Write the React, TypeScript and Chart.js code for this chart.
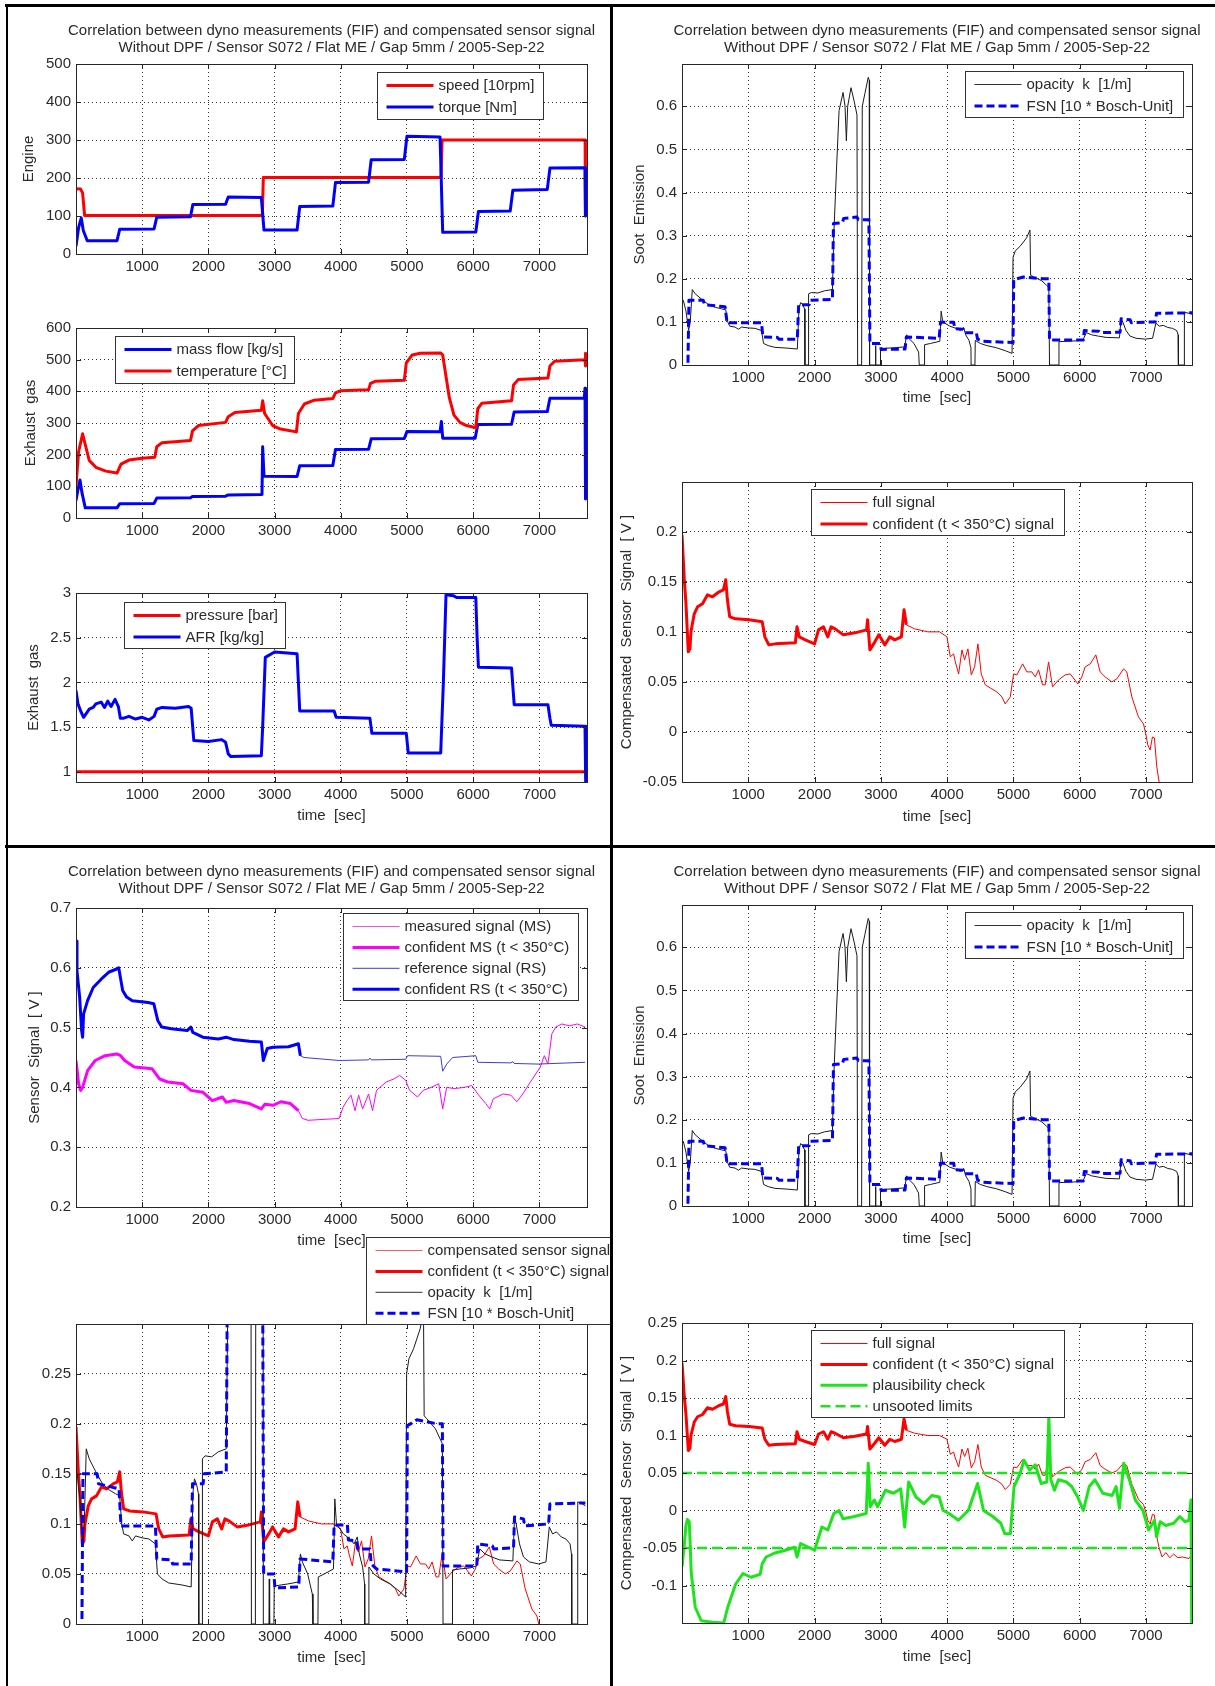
import React, { useEffect, useRef } from 'react';
import { Chart, registerables } from 'chart.js';
Chart.register(...registerables);

type Pt = [number, number];

const FONT = "'Liberation Sans', Arial, Helvetica, sans-serif";
const TEXT = '#2a2a2a';
const TITLE_1 = 'Correlation between dyno measurements (FIF) and compensated sensor signal';
const TITLE_2 = 'Without DPF / Sensor S072 / Flat ME / Gap 5mm / 2005-Sep-22';
const TIME_LABEL = 'time  [sec]';

// ---------- tick values ----------
const xTicks = [1000, 2000, 3000, 4000, 5000, 6000, 7000];
const engineTicks = [0, 100, 200, 300, 400, 500];
const exhaustTicks = [0, 100, 200, 300, 400, 500, 600];
const afrTicks = [1, 1.5, 2, 2.5, 3];
const sootTicks = [0, 0.1, 0.2, 0.3, 0.4, 0.5, 0.6];
const compTicks = [-0.05, 0, 0.05, 0.1, 0.15, 0.2];
const sensorTicks = [0.2, 0.3, 0.4, 0.5, 0.6, 0.7];
const overlayTicks = [0, 0.05, 0.1, 0.15, 0.2, 0.25];
const plausTicks = [-0.1, -0.05, 0, 0.05, 0.1, 0.15, 0.2, 0.25];

// ---------- data: [time sec, value] ----------
const speed: Pt[] = [[0,172],[70,171],[100,160],[130,101],[2815,101],[2830,201],[5515,201],[5530,300],[7692,300],[7696,100]];

const torque: Pt[] = [[0,20],[40,70],[80,95],[110,62],[170,35],[620,35],[660,65],[1180,66],[1220,97],[1730,98],[1765,130],[2260,131],[2300,150],[2800,149],[2840,63],[3340,63],[3380,125],[3880,126],[3920,188],[4420,189],[4460,248],[4960,249],[5000,310],[5500,308],[5540,57],[6040,58],[6080,112],[6560,113],[6600,168],[7120,170],[7160,226],[7690,227],[7697,100]];

const massFlow: Pt[] = [[0,55],[30,90],[60,120],[90,80],[140,32],[620,32],[660,45],[1180,46],[1220,63],[1730,64],[1760,68],[2260,69],[2300,73],[2810,74],[2820,225],[2840,132],[3340,131],[3380,165],[3880,166],[3920,216],[4420,217],[4460,250],[4960,251],[5000,273],[5500,272],[5520,305],[5540,252],[6030,252],[6070,295],[6580,296],[6620,335],[7120,336],[7160,378],[7680,379],[7690,410],[7695,240],[7700,60]];

const exhaustTemp: Pt[] = [[0,100],[40,210],[100,266],[130,240],[200,182],[300,160],[450,148],[620,142],[680,170],[800,183],[1000,189],[1190,192],[1220,225],[1300,238],[1730,245],[1760,275],[1850,292],[2260,302],[2300,320],[2400,333],[2800,340],[2820,370],[2850,330],[2970,292],[3090,281],[3330,272],[3360,330],[3450,360],[3600,372],[3880,377],[3920,395],[4000,402],[4420,405],[4450,425],[4530,432],[4960,435],[4990,490],[5080,515],[5200,520],[5510,521],[5540,515],[5580,460],[5640,380],[5710,325],[5800,302],[5900,292],[6040,285],[6070,345],[6130,362],[6580,370],[6610,420],[6680,437],[7130,442],[7160,480],[7230,495],[7690,500],[7695,520],[7700,480]];

const pressure: Pt[] = [[0,1.0],[7695,1.0]];

const afr: Pt[] = [[0,1.91],[30,1.76],[70,1.68],[115,1.61],[200,1.7],[260,1.72],[300,1.76],[380,1.78],[430,1.72],[480,1.79],[530,1.73],[590,1.81],[640,1.73],[670,1.6],[720,1.6],[800,1.62],[900,1.59],[1000,1.61],[1100,1.58],[1180,1.62],[1220,1.7],[1300,1.72],[1500,1.71],[1700,1.73],[1740,1.71],[1780,1.35],[2000,1.34],[2200,1.36],[2260,1.33],[2300,1.2],[2340,1.17],[2800,1.18],[2820,1.5],[2860,2.28],[3000,2.34],[3340,2.32],[3380,1.68],[3900,1.68],[3930,1.61],[4440,1.6],[4470,1.43],[4990,1.43],[5020,1.21],[5510,1.21],[5550,2.0],[5590,2.98],[5700,2.97],[5750,2.95],[6040,2.95],[6060,2.5],[6080,2.17],[6580,2.16],[6620,1.75],[7130,1.75],[7160,1.6],[7180,1.52],[7690,1.51],[7700,0.89]];

const opacity: Pt[] = [[0,0.145],[20,0.15],[60,0.125],[100,0.08],[125,0.1],[155,0.175],[200,0.165],[300,0.152],[400,0.14],[500,0.134],[600,0.13],[660,0.128],[690,0.1],[720,0.09],[800,0.088],[850,0.083],[900,0.088],[1000,0.086],[1100,0.085],[1200,0.08],[1230,0.05],[1300,0.045],[1400,0.041],[1600,0.039],[1740,0.037],[1765,0.13],[1790,0.145],[1820,0.14],[1850,0.13],[1855,0],[1905,0],[1910,0.165],[1950,0.168],[2050,0.167],[2150,0.172],[2270,0.175],[2290,0.3],[2330,0.45],[2370,0.59],[2430,0.632],[2460,0.6],[2480,0.52],[2500,0.6],[2550,0.643],[2600,0.61],[2640,0.58],[2650,0],[2710,0],[2720,0.6],[2760,0.63],[2810,0.667],[2825,0.66],[2830,0],[2915,0],[2920,0.045],[2925,0],[2990,0],[2995,0.038],[3200,0.04],[3360,0.042],[3390,0.07],[3420,0.062],[3500,0.05],[3570,0.03],[3580,0],[3655,0],[3660,0.047],[3750,0.05],[3890,0.055],[3910,0.125],[3935,0.1],[4040,0.09],[4155,0.084],[4200,0.08],[4250,0.087],[4280,0.07],[4330,0.057],[4360,0.04],[4362,0],[4420,0],[4425,0.057],[4500,0.05],[4600,0.045],[4745,0.04],[4880,0.033],[4980,0.027],[4995,0.25],[5030,0.265],[5100,0.275],[5200,0.295],[5250,0.313],[5260,0.208],[5300,0.205],[5430,0.195],[5500,0.185],[5535,0.18],[5545,0],[5683,0],[5688,0.054],[5800,0.055],[5950,0.056],[6050,0.058],[6100,0.075],[6180,0.07],[6280,0.067],[6400,0.064],[6600,0.063],[6625,0.107],[6650,0.1],[6700,0.08],[6760,0.067],[6850,0.062],[6990,0.06],[7100,0.062],[7150,0.097],[7200,0.09],[7260,0.092],[7330,0.087],[7400,0.085],[7464,0.08],[7485,0.07],[7490,0],[7575,0],[7580,0.122],[7650,0.12],[7695,0.118]];

const fsn: Pt[] = [[90,0.005],[105,0.15],[320,0.15],[340,0.14],[650,0.135],[680,0.098],[1200,0.098],[1220,0.065],[1440,0.064],[1460,0.06],[1740,0.06],[1760,0.14],[1920,0.14],[1935,0.15],[2270,0.152],[2285,0.328],[2420,0.33],[2440,0.34],[2640,0.343],[2660,0.337],[2820,0.337],[2835,0.05],[2990,0.05],[3005,0.036],[3365,0.037],[3385,0.065],[3880,0.062],[3900,0.099],[4100,0.099],[4115,0.084],[4240,0.083],[4255,0.075],[4440,0.075],[4460,0.06],[4540,0.055],[4995,0.052],[5005,0.198],[5150,0.204],[5450,0.2],[5535,0.2],[5545,0.058],[6055,0.058],[6070,0.08],[6290,0.078],[6310,0.075],[6610,0.076],[6625,0.107],[6760,0.105],[6780,0.098],[7140,0.1],[7160,0.12],[7695,0.121]];

const compSignal: Pt[] = [[0,0.197],[35,0.152],[60,0.128],[95,0.08],[120,0.083],[135,0.1],[185,0.118],[235,0.125],[310,0.128],[385,0.137],[460,0.135],[560,0.14],[625,0.142],[660,0.152],[685,0.132],[720,0.115],[810,0.113],[1010,0.112],[1210,0.11],[1250,0.095],[1310,0.087],[1410,0.088],[1710,0.089],[1735,0.105],[1770,0.095],[1860,0.092],[2000,0.088],[2060,0.102],[2135,0.105],[2200,0.095],[2250,0.105],[2310,0.103],[2435,0.097],[2610,0.099],[2785,0.102],[2800,0.112],[2835,0.082],[2910,0.09],[2970,0.097],[3060,0.087],[3135,0.095],[3210,0.092],[3310,0.095],[3350,0.122],[3385,0.107],[3510,0.103],[3710,0.1],[3885,0.1],[3998,0.095],[4048,0.075],[4098,0.078],[4124,0.07],[4174,0.058],[4224,0.082],[4264,0.072],[4314,0.083],[4365,0.057],[4415,0.065],[4465,0.088],[4515,0.058],[4576,0.047],[4676,0.043],[4752,0.04],[4827,0.035],[4877,0.028],[4953,0.035],[5003,0.058],[5053,0.057],[5139,0.068],[5204,0.06],[5279,0.06],[5330,0.055],[5380,0.062],[5440,0.047],[5480,0.047],[5531,0.07],[5591,0.045],[5681,0.052],[5782,0.057],[5857,0.058],[5973,0.048],[6033,0.055],[6083,0.065],[6159,0.068],[6244,0.077],[6309,0.06],[6385,0.055],[6485,0.05],[6561,0.053],[6661,0.063],[6711,0.06],[6787,0.035],[6887,0.015],[6963,0.008],[6998,-0.002],[7028,-0.013],[7063,-0.018],[7098,-0.005],[7128,-0.006],[7164,-0.035],[7199,-0.05],[7244,-0.062],[7300,-0.056],[7360,-0.063],[7418,-0.058],[7480,-0.063],[7550,-0.062],[7650,-0.064],[7695,-0.058]];

const plausibility: Pt[] = [[0,-0.075],[30,-0.05],[60,-0.02],[80,-0.012],[110,-0.015],[140,-0.084],[200,-0.129],[290,-0.147],[460,-0.149],[630,-0.15],[690,-0.129],[810,-0.098],[920,-0.084],[1040,-0.089],[1180,-0.085],[1210,-0.071],[1270,-0.062],[1390,-0.057],[1560,-0.053],[1700,-0.049],[1735,-0.062],[1790,-0.044],[1910,-0.049],[2000,-0.053],[2110,-0.022],[2200,-0.026],[2290,-0.004],[2370,0.0],[2430,-0.011],[2600,-0.008],[2780,-0.004],[2810,0.063],[2840,0.005],[2900,0.014],[2950,0.005],[3070,0.027],[3190,0.023],[3300,0.029],[3360,-0.022],[3420,0.038],[3530,0.018],[3650,0.009],[3770,0.02],[3880,0.018],[3940,0.0],[4030,-0.004],[4170,-0.013],[4320,0.0],[4460,0.036],[4550,0.0],[4690,-0.008],[4810,-0.017],[4870,-0.031],[4955,-0.031],[5010,0.032],[5100,0.049],[5160,0.067],[5245,0.054],[5330,0.061],[5420,0.036],[5505,0.038],[5535,0.125],[5565,0.041],[5620,0.027],[5680,0.041],[5800,0.038],[5880,0.032],[5970,0.018],[6055,0.0],[6145,0.032],[6230,0.041],[6350,0.023],[6490,0.02],[6550,0.032],[6600,0.003],[6665,0.063],[6750,0.041],[6840,0.014],[6955,0.0],[7040,-0.026],[7130,-0.013],[7160,-0.035],[7215,-0.015],[7300,-0.02],[7420,-0.017],[7510,-0.008],[7590,-0.015],[7650,-0.013],[7680,0.014],[7690,-0.15]];

const refSignal: Pt[] = [[0,0.645],[15,0.595],[55,0.551],[85,0.495],[100,0.484],[115,0.523],[175,0.545],[260,0.567],[380,0.581],[500,0.593],[615,0.598],[645,0.6],[705,0.562],[765,0.551],[850,0.545],[1090,0.542],[1175,0.54],[1235,0.512],[1295,0.501],[1440,0.498],[1680,0.495],[1735,0.501],[1765,0.492],[1915,0.484],[2150,0.481],[2270,0.484],[2385,0.48],[2620,0.477],[2800,0.476],[2830,0.445],[2890,0.465],[2975,0.467],[3210,0.468],[3360,0.473],[3390,0.453],[3445,0.45],[3975,0.445],[4420,0.446],[4440,0.449],[4460,0.446],[4980,0.447],[5010,0.453],[5510,0.452],[5540,0.427],[5600,0.439],[5690,0.45],[6040,0.453],[6070,0.442],[6570,0.441],[6600,0.443],[6620,0.44],[6980,0.439],[7690,0.442]];

const measSignal: Pt[] = [[0,0.445],[40,0.406],[70,0.395],[100,0.4],[175,0.428],[290,0.445],[440,0.453],[615,0.456],[675,0.453],[735,0.445],[880,0.434],[1150,0.431],[1265,0.414],[1385,0.409],[1620,0.406],[1735,0.395],[1915,0.392],[2060,0.378],[2210,0.384],[2270,0.375],[2385,0.378],[2620,0.373],[2800,0.364],[2855,0.372],[2975,0.37],[3095,0.376],[3240,0.373],[3360,0.361],[3420,0.348],[3505,0.345],[3975,0.348],[4035,0.367],[4095,0.378],[4155,0.387],[4215,0.361],[4270,0.387],[4330,0.364],[4420,0.389],[4480,0.361],[4540,0.395],[4685,0.409],[4800,0.414],[4890,0.42],[4980,0.412],[5040,0.395],[5160,0.384],[5245,0.395],[5365,0.4],[5480,0.406],[5540,0.364],[5600,0.4],[5715,0.398],[5865,0.4],[5980,0.403],[6070,0.389],[6190,0.373],[6250,0.364],[6305,0.381],[6455,0.389],[6570,0.387],[6660,0.376],[6750,0.389],[6865,0.409],[7015,0.434],[7075,0.453],[7130,0.439],[7190,0.49],[7250,0.501],[7340,0.506],[7455,0.503],[7575,0.506],[7690,0.501]];

const unsootedLimits = [0.05, -0.05];
const confidentUntil = 3410; // exhaust temperature below 350°C

// ---------- styling ----------
const RED = '#ff0000';
const BLUE = '#0000ff';
const BLACK = '#1a1a1a';
const MAGENTA = '#ff00ff';
const THIN_BLUE = '#3c3cd2';
const GREEN = '#1ee41e';
const FSN_DASH = [8, 4];
const LIMIT_DASH = [10, 5];

interface SeriesSpec { data: Pt[]; color: string; width: number; dash?: number[]; maxT?: number; }
interface LegendRow { label: string; color: string; width: number; dash?: number[]; }
interface PlotSpec {
  id: string;
  box: [number, number, number, number];
  area: [number, number, number, number];
  xMax: number; yMin: number; yMax: number; yTicks: number[];
  yTitle?: string; yTitleX?: number;
  xTitleY?: number;
  titleYs?: [number, number];
  legend?: { x: number; y: number; w: number; h: number; rows: LegendRow[] };
  series: SeriesSpec[];
}

const sootSeries: SeriesSpec[] = [
  { data: opacity, color: BLACK, width: 1 },
  { data: fsn, color: BLUE, width: 3, dash: FSN_DASH },
];
const sootLegend: LegendRow[] = [
  { label: 'opacity  k  [1/m]', color: '#333', width: 1 },
  { label: 'FSN [10 * Bosch-Unit]', color: BLUE, width: 3, dash: FSN_DASH },
];
const compLegend: LegendRow[] = [
  { label: 'full signal', color: RED, width: 1 },
  { label: 'confident (t < 350°C) signal', color: RED, width: 3 },
];
const SENSOR_TITLE = 'Compensated  Sensor  Signal  [ V ]';

const plots: PlotSpec[] = [
  {
    id: 'engine', box: [8, 6, 603, 284], area: [76, 64, 587, 254],
    xMax: 7720, yMin: 0, yMax: 500, yTicks: engineTicks,
    yTitle: 'Engine', yTitleX: 29, titleYs: [31, 48],
    legend: { x: 376.5, y: 71.5, w: 166, h: 47, rows: [
      { label: 'speed [10rpm]', color: RED, width: 3 },
      { label: 'torque [Nm]', color: BLUE, width: 3 },
    ] },
    series: [
      { data: speed, color: RED, width: 3 },
      { data: torque, color: BLUE, width: 3 },
    ],
  },
  {
    id: 'exhaust', box: [8, 290, 603, 270], area: [76, 328, 587, 518],
    xMax: 7720, yMin: 0, yMax: 600, yTicks: exhaustTicks,
    yTitle: 'Exhaust  gas', yTitleX: 31,
    legend: { x: 114.5, y: 336, w: 179, h: 47, rows: [
      { label: 'mass flow [kg/s]', color: BLUE, width: 3 },
      { label: 'temperature [°C]', color: RED, width: 3 },
    ] },
    series: [
      { data: massFlow, color: BLUE, width: 3 },
      { data: exhaustTemp, color: RED, width: 3 },
    ],
  },
  {
    id: 'afr', box: [8, 560, 603, 285], area: [76, 593, 587, 782],
    xMax: 7720, yMin: 0.886, yMax: 3, yTicks: afrTicks,
    yTitle: 'Exhaust  gas', yTitleX: 34, xTitleY: 816,
    legend: { x: 124, y: 601.5, w: 161, h: 46, rows: [
      { label: 'pressure [bar]', color: RED, width: 3 },
      { label: 'AFR [kg/kg]', color: BLUE, width: 3 },
    ] },
    series: [
      { data: pressure, color: RED, width: 3 },
      { data: afr, color: BLUE, width: 3 },
    ],
  },
  {
    id: 'soot1', box: [613, 6, 600, 434], area: [682, 64, 1192, 365],
    xMax: 7695, yMin: 0, yMax: 0.698, yTicks: sootTicks,
    yTitle: 'Soot  Emission', yTitleX: 640, xTitleY: 398, titleYs: [31, 48],
    legend: { x: 964.5, y: 71, w: 218, h: 46, rows: sootLegend },
    series: sootSeries,
  },
  {
    id: 'comp1', box: [613, 440, 600, 405], area: [682, 482, 1192, 782],
    xMax: 7695, yMin: -0.05, yMax: 0.2497, yTicks: compTicks,
    yTitle: SENSOR_TITLE, yTitleX: 627, xTitleY: 817,
    legend: { x: 811, y: 488.5, w: 253, h: 46, rows: compLegend },
    series: [
      { data: compSignal, color: RED, width: 1 },
      { data: compSignal, color: RED, width: 3, maxT: confidentUntil },
    ],
  },
  {
    id: 'sensor', box: [8, 849, 603, 403], area: [76, 908, 587, 1207],
    xMax: 7720, yMin: 0.2, yMax: 0.7, yTicks: sensorTicks,
    yTitle: 'Sensor  Signal  [ V ]', yTitleX: 35, xTitleY: 1241, titleYs: [872, 889],
    legend: { x: 342.5, y: 913, w: 235, h: 87, rows: [
      { label: 'measured signal (MS)', color: '#f050f0', width: 1 },
      { label: 'confident MS (t < 350°C)', color: MAGENTA, width: 3 },
      { label: 'reference signal (RS)', color: THIN_BLUE, width: 1 },
      { label: 'confident RS (t < 350°C)', color: BLUE, width: 3 },
    ] },
    series: [
      { data: measSignal, color: MAGENTA, width: 1 },
      { data: measSignal, color: MAGENTA, width: 3, maxT: confidentUntil },
      { data: refSignal, color: THIN_BLUE, width: 1 },
      { data: refSignal, color: BLUE, width: 3, maxT: confidentUntil },
    ],
  },
  {
    id: 'overlay', box: [8, 1232, 603, 452], area: [76, 1324, 587, 1624],
    xMax: 7720, yMin: 0, yMax: 0.2997, yTicks: overlayTicks,
    xTitleY: 1657.5,
    legend: { x: 365.5, y: 1237, w: 262, h: 87, rows: [
      { label: 'compensated sensor signal', color: '#f06060', width: 1 },
      { label: 'confident (t < 350°C) signal', color: RED, width: 3 },
      { label: 'opacity  k  [1/m]', color: '#333', width: 1 },
      { label: 'FSN [10 * Bosch-Unit]', color: BLUE, width: 3, dash: FSN_DASH },
    ] },
    series: [
      { data: compSignal, color: RED, width: 1 },
      { data: compSignal, color: RED, width: 3, maxT: confidentUntil },
      { data: opacity, color: BLACK, width: 1 },
      { data: fsn, color: BLUE, width: 3, dash: FSN_DASH },
    ],
  },
  {
    id: 'soot2', box: [613, 849, 600, 432], area: [682, 905, 1192, 1206],
    xMax: 7695, yMin: 0, yMax: 0.698, yTicks: sootTicks,
    yTitle: 'Soot  Emission', yTitleX: 640, xTitleY: 1239, titleYs: [872, 889],
    legend: { x: 964.5, y: 912, w: 218, h: 46, rows: sootLegend },
    series: sootSeries,
  },
  {
    id: 'plaus', box: [613, 1281, 600, 403], area: [682, 1323, 1192, 1623],
    xMax: 7695, yMin: -0.15, yMax: 0.25, yTicks: plausTicks,
    yTitle: SENSOR_TITLE, yTitleX: 627, xTitleY: 1657,
    legend: { x: 811, y: 1329.5, w: 253, h: 87, rows: [
      ...compLegend,
      { label: 'plausibility check', color: GREEN, width: 3 },
      { label: 'unsooted limits', color: GREEN, width: 2.5, dash: LIMIT_DASH },
    ] },
    series: [
      { data: compSignal, color: RED, width: 1 },
      { data: compSignal, color: RED, width: 3, maxT: confidentUntil },
      { data: plausibility, color: GREEN, width: 3 },
      ...unsootedLimits.map((v) => ({ data: [[0, v], [7695, v]] as Pt[], color: GREEN, width: 2.5, dash: LIMIT_DASH })),
    ],
  },
];

const fmt = (v: number) => String(Number(Number(v).toFixed(4)));

function makeMatlabPlugin(p: PlotSpec) {
  const [cx, cy] = p.box;
  return {
    id: 'matlab_' + p.id,
    afterDatasetsDraw(chart: any) {
      const { ctx, chartArea: a, scales } = chart;
      ctx.save();
      ctx.setLineDash([]);
      ctx.strokeStyle = '#262626';
      ctx.lineWidth = 1;
      ctx.strokeRect(Math.round(a.left) + 0.5, Math.round(a.top) + 0.5, Math.round(a.right - a.left), Math.round(a.bottom - a.top));
      const tl = 5;
      ctx.beginPath();
      for (const v of xTicks) {
        const x = Math.round(scales.x.getPixelForValue(v)) + 0.5;
        ctx.moveTo(x, a.bottom); ctx.lineTo(x, a.bottom - tl);
        ctx.moveTo(x, a.top); ctx.lineTo(x, a.top + tl);
      }
      for (const v of p.yTicks) {
        const y = Math.round(scales.y.getPixelForValue(v)) + 0.5;
        ctx.moveTo(a.left, y); ctx.lineTo(a.left + tl, y);
        ctx.moveTo(a.right, y); ctx.lineTo(a.right - tl, y);
      }
      ctx.stroke();
      ctx.restore();
    },
    afterDraw(chart: any) {
      const { ctx, chartArea: a } = chart;
      ctx.save();
      ctx.font = `15px ${FONT}`;
      ctx.fillStyle = TEXT;
      ctx.textBaseline = 'middle';
      if (p.titleYs) {
        ctx.textAlign = 'center';
        const mx = (a.left + a.right) / 2;
        ctx.fillText(TITLE_1, mx, p.titleYs[0] - cy);
        ctx.fillText(TITLE_2, mx, p.titleYs[1] - cy);
      }
      const lg = p.legend;
      if (lg) {
        const bx = Math.round(lg.x - cx) + 0.5;
        const by = Math.round(lg.y - cy) + 0.5;
        ctx.fillStyle = '#ffffff';
        ctx.fillRect(bx, by, lg.w, lg.h);
        ctx.strokeStyle = '#333';
        ctx.lineWidth = 1;
        ctx.setLineDash([]);
        ctx.strokeRect(bx, by, lg.w, lg.h);
        const dy = lg.rows.length === 2 ? 21.6 : 20.9;
        lg.rows.forEach((r, i) => {
          const y = by + 13 + i * dy;
          ctx.beginPath();
          ctx.setLineDash(r.dash || []);
          ctx.strokeStyle = r.color;
          ctx.lineWidth = r.width;
          ctx.moveTo(bx + 9, y);
          ctx.lineTo(bx + 56, y);
          ctx.stroke();
          ctx.setLineDash([]);
          ctx.fillStyle = TEXT;
          ctx.textAlign = 'left';
          ctx.fillText(r.label, bx + 61, y + 0.5);
        });
      }
      ctx.restore();
    },
  };
}

function buildConfig(p: PlotSpec): any {
  const [cx, cy, cw, ch] = p.box;
  const [L, T, R, B] = p.area;
  const lh = 18;
  const n = p.series.length;
  const datasets = p.series.map((s, i) => ({
    data: s.data.filter((d) => s.maxT === undefined || d[0] <= s.maxT).map(([x, y]) => ({ x, y })),
    borderColor: s.color,
    backgroundColor: s.color,
    borderWidth: s.width,
    borderDash: s.dash || [],
    borderJoinStyle: 'round',
    borderCapStyle: 'butt',
    pointRadius: 0,
    pointHoverRadius: 0,
    tension: 0,
    fill: false,
    order: n - i,
  }));
  const tickFont = { family: FONT, size: 15 };
  const grid = { color: 'rgba(0,0,0,0.8)', lineWidth: 1, drawTicks: false };
  return {
    type: 'line',
    data: { datasets },
    options: {
      animation: false,
      responsive: false,
      devicePixelRatio: 1,
      events: [],
      layout: { padding: { left: 0, top: T - cy, right: cx + cw - R, bottom: 0 } },
      plugins: { legend: { display: false }, tooltip: { enabled: false }, title: { display: false } },
      scales: {
        x: {
          type: 'linear', min: 0, max: p.xMax,
          afterBuildTicks: (s: any) => { s.ticks = xTicks.map((v) => ({ value: v })); },
          afterFit: (s: any) => { s.height = cy + ch - B; },
          grid,
          border: { display: false, dash: [1, 3] },
          ticks: { padding: 4, maxRotation: 0, minRotation: 0, autoSkip: false, color: TEXT, font: tickFont, callback: (v: any) => fmt(v) },
          title: {
            display: p.xTitleY !== undefined, text: TIME_LABEL, color: TEXT, font: tickFont,
            padding: { top: 0, bottom: p.xTitleY !== undefined ? cy + ch - p.xTitleY - lh / 2 : 0 },
          },
        },
        y: {
          type: 'linear', min: p.yMin, max: p.yMax,
          afterBuildTicks: (s: any) => { s.ticks = p.yTicks.map((v) => ({ value: v })); },
          afterFit: (s: any) => { s.width = L - cx; },
          grid,
          border: { display: false, dash: [1, 3] },
          ticks: { padding: 5, autoSkip: false, color: TEXT, font: tickFont, callback: (v: any) => fmt(v) },
          title: {
            display: !!p.yTitle, text: p.yTitle || '', color: TEXT, font: tickFont,
            padding: { top: p.yTitleX !== undefined ? p.yTitleX - cx - lh / 2 : 0, bottom: 0 },
          },
        },
      },
    },
    plugins: [makeMatlabPlugin(p)],
  };
}

function Plot({ spec }: { spec: PlotSpec }) {
  const ref = useRef<HTMLCanvasElement>(null);
  useEffect(() => {
    if (!ref.current) return;
    const chart = new Chart(ref.current, buildConfig(spec));
    return () => chart.destroy();
  }, [spec]);
  const [cx, cy, cw, ch] = spec.box;
  return (
    <canvas
      ref={ref}
      width={cw}
      height={ch}
      style={{ position: 'absolute', left: cx, top: cy, width: cw, height: ch }}
    />
  );
}

const frameLines: [number, number, number, number][] = [
  [5, 4, 1210, 2.5],
  [5.5, 4, 2.5, 1682],
  [609.5, 4, 3, 1682],
  [5, 845, 1210, 3],
];

export default function App() {
  return (
    <div style={{ position: 'absolute', left: 0, top: 0, width: 1215, height: 1686, background: '#fff', overflow: 'hidden' }}>
      {plots.map((p) => <Plot key={p.id} spec={p} />)}
      {frameLines.map(([x, y, w, h], i) => (
        <div key={i} style={{ position: 'absolute', left: x, top: y, width: w, height: h, background: '#000', zIndex: 5 }} />
      ))}
    </div>
  );
}
